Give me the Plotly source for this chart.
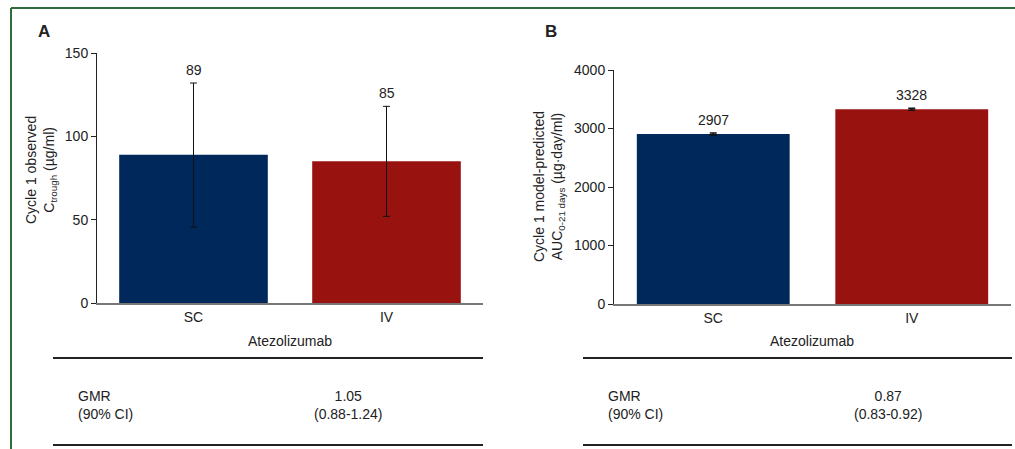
import plotly.graph_objects as go

categories = ["SC", "IV"]
# Panel A: Cycle 1 observed Ctrough (µg/ml)
ctrough_mean = [89, 85]
ctrough_upper = [132, 118]
ctrough_lower = [45.5, 52]
# Panel B: Cycle 1 model-predicted AUC0-21 days
auc_mean = [2907, 3328]
auc_upper = [2925, 3345]
auc_lower = [2890, 3312]
gmr_a = ["1.05", "(0.88-1.24)"]
gmr_b = ["0.87", "(0.83-0.92)"]
bar_colors = ["#00285a", "#981310"]

W, H = 1015, 449
def px(x):
    return x / W
def py(y):
    return 1 - y / H

FONT = "Liberation Sans, Arial, sans-serif"
TXT = "#222222"
FS = 14

fig = go.Figure()

fig.add_trace(go.Bar(
    x=categories, y=ctrough_mean, marker=dict(color=bar_colors, line=dict(width=0)),
    width=0.77,
    error_y=dict(type="data", symmetric=False,
                 array=[u - m for u, m in zip(ctrough_upper, ctrough_mean)],
                 arrayminus=[m - l for l, m in zip(ctrough_lower, ctrough_mean)],
                 color="#111111", thickness=1, width=3.5),
    xaxis="x", yaxis="y", showlegend=False, hoverinfo="skip"))

fig.add_trace(go.Bar(
    x=categories, y=auc_mean, marker=dict(color=bar_colors, line=dict(width=0)),
    width=0.77,
    error_y=dict(type="data", symmetric=False,
                 array=[u - m for u, m in zip(auc_upper, auc_mean)],
                 arrayminus=[m - l for l, m in zip(auc_lower, auc_mean)],
                 color="#111111", thickness=1.5, width=3.5),
    xaxis="x2", yaxis="y2", showlegend=False, hoverinfo="skip"))

yaxis_common = dict(showline=True, linecolor="#222222", linewidth=1, ticks="outside",
                    ticklen=5, tickcolor="#222222", showgrid=False, zeroline=False,
                    automargin=False, tickfont=dict(family=FONT, size=FS, color=TXT))
xaxis_common = dict(showline=True, linecolor="#777777", linewidth=2, ticks="",
                    showgrid=False, zeroline=False, automargin=False,
                    tickfont=dict(family=FONT, size=FS, color=TXT))

fig.update_layout(
    width=W, height=H, margin=dict(l=0, r=0, t=0, b=0, pad=0, autoexpand=False),
    paper_bgcolor="white", plot_bgcolor="white",
    font=dict(family=FONT, size=FS, color=TXT),
    xaxis=dict(domain=[px(97), px(483)], anchor="y", range=[-0.5, 1.5], **xaxis_common),
    yaxis=dict(domain=[py(303), py(53)], anchor="x", range=[0, 150],
               tickvals=[0, 50, 100, 150], **yaxis_common),
    xaxis2=dict(domain=[px(614), px(1011)], anchor="y2", range=[-0.5, 1.5], **xaxis_common),
    yaxis2=dict(domain=[py(304), py(70)], anchor="x2", range=[0, 4000],
                tickvals=[0, 1000, 2000, 3000, 4000], **yaxis_common),
)

def note(x, y, text, xanchor="center", yanchor="middle", size=FS, **kw):
    return dict(x=px(x), y=py(y), xref="paper", yref="paper", text=text, showarrow=False,
                xanchor=xanchor, yanchor=yanchor, font=dict(family=FONT, size=size, color=TXT), **kw)

ann = []
# value labels
for c, m, u in zip(categories, ctrough_mean, ctrough_upper):
    ann.append(dict(x=c, y=u, xref="x", yref="y", text=str(m), showarrow=False,
                    xanchor="center", yanchor="bottom", yshift=3,
                    font=dict(family=FONT, size=FS, color=TXT)))
for c, m, u in zip(categories, auc_mean, auc_upper):
    ann.append(dict(x=c, y=u, xref="x2", yref="y2", text=str(m), showarrow=False,
                    xanchor="center", yanchor="bottom", yshift=3,
                    font=dict(family=FONT, size=FS, color=TXT)))

# panel letters
ann.append(note(36, 32, "<b>A</b>", xanchor="left", size=17))
ann.append(note(543, 32, "<b>B</b>", xanchor="left", size=17))

# y-axis titles
ann.append(note(41, 170, "Cycle 1 observed<br>C<sub>trough</sub> (µg/ml)", textangle=-90))
ann.append(note(549, 187, "Cycle 1 model-predicted<br>AUC<sub>0-21 days</sub> (µg·day/ml)",
                textangle=-90))

# x-axis titles
ann.append(note(290, 341, "Atezolizumab"))
ann.append(note(812, 341, "Atezolizumab"))

# table text
ann.append(note(76, 405, "GMR<br>(90% CI)", xanchor="left", align="left"))
ann.append(note(348, 405, "<br>".join(gmr_a), align="center"))
ann.append(note(606, 405, "GMR<br>(90% CI)", xanchor="left", align="left"))
ann.append(note(888, 405, "<br>".join(gmr_b), align="center"))
fig.update_layout(annotations=ann)

shapes = []
for (x0, x1) in [(53, 483), (583, 1012)]:
    for yy in (358, 445):
        shapes.append(dict(type="line", xref="paper", yref="paper", x0=px(x0), x1=px(x1),
                           y0=py(yy), y1=py(yy), line=dict(color="#222222", width=2)))
# green frame
shapes.append(dict(type="line", xref="paper", yref="paper", x0=px(11), x1=1,
                   y0=py(8), y1=py(8), line=dict(color="#2f6b3c", width=2)))
shapes.append(dict(type="line", xref="paper", yref="paper", x0=px(11), x1=px(11),
                   y0=py(8), y1=0, line=dict(color="#2f6b3c", width=2)))
fig.update_layout(shapes=shapes)

post = (
    "var st=function(e){e.style.margin='0';e.style.padding='0';e.style.overflow='hidden';"
    "e.style.width='1015px';e.style.height='449px';};"
    "st(document.documentElement);st(document.body);"
    "var d=document.getElementById('{plot_id}');"
    "d.style.position='fixed';d.style.left='0px';d.style.top='0px';"
)
fig.write_html("out.html", config={"displayModeBar": False}, post_script=post)
